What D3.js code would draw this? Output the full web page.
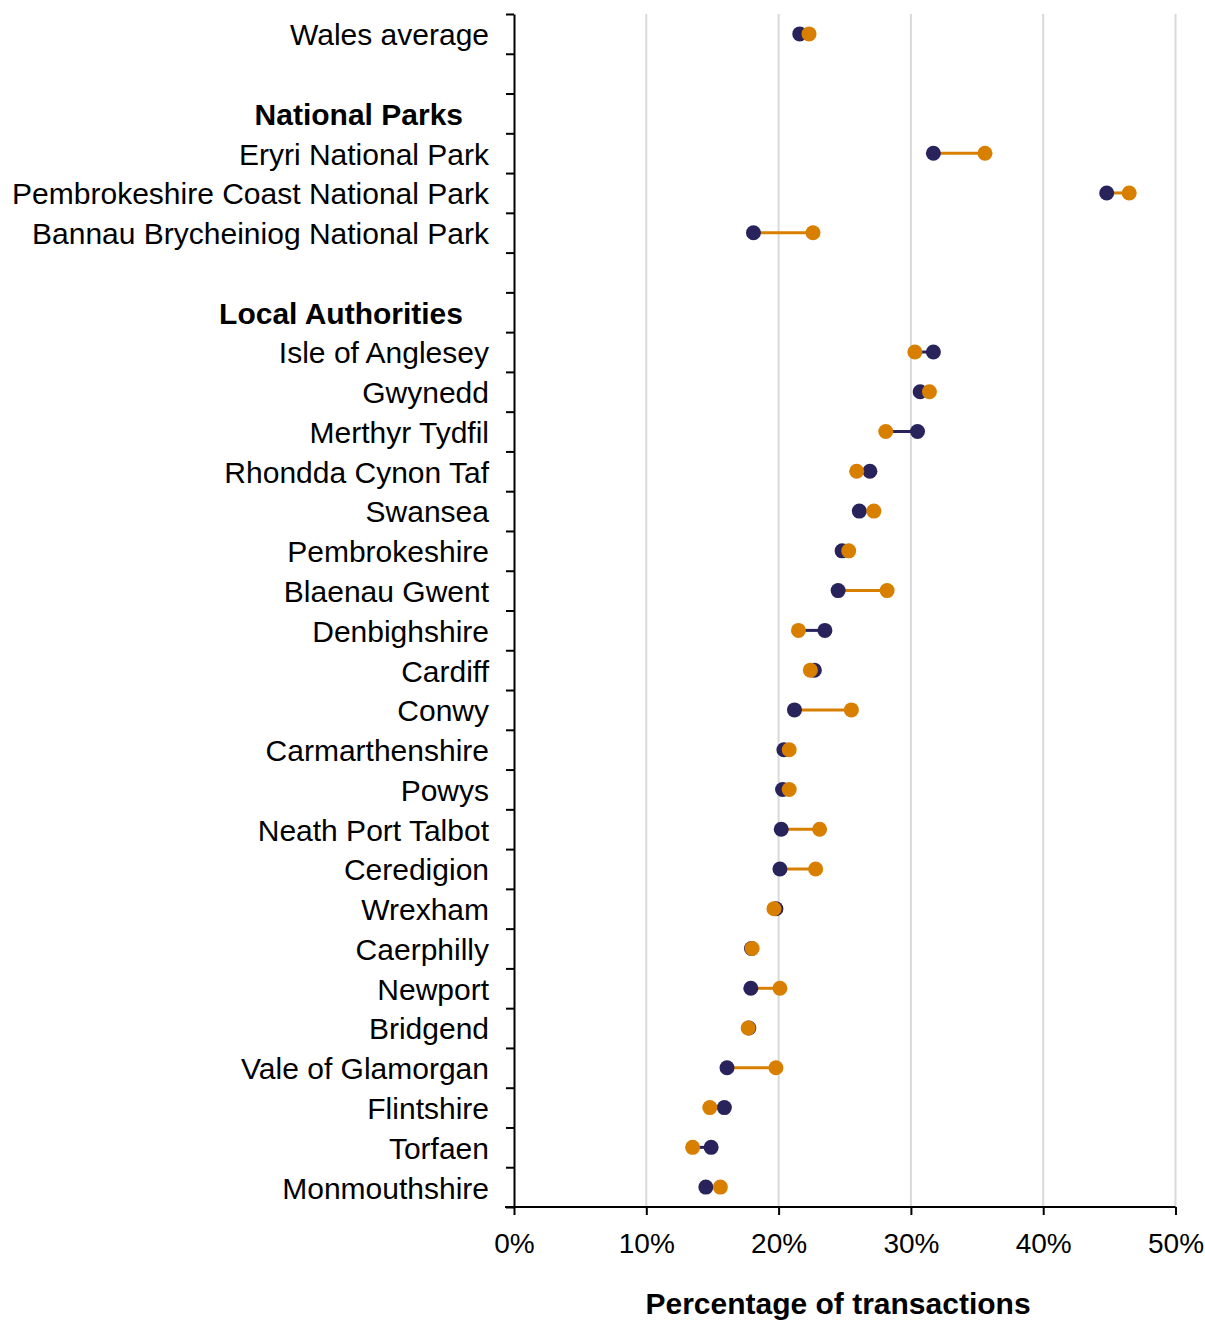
<!DOCTYPE html>
<html>
<head>
<meta charset="utf-8" />
<title>Percentage of transactions</title>
<script src="https://d3js.org/d3.v7.min.js"></script>
<style>
  body { margin: 0; background: #fff; }
  text { font-family: "Liberation Sans", Arial, sans-serif; }
</style>
</head>
<body>
<svg width="1205" height="1320"></svg>
<script>
// rows top to bottom, "" = blank spacer row
var rowLabels = ["Wales average", "", "National Parks", "Eryri National Park",
  "Pembrokeshire Coast National Park", "Bannau Brycheiniog National Park", "",
  "Local Authorities", "Isle of Anglesey", "Gwynedd", "Merthyr Tydfil",
  "Rhondda Cynon Taf", "Swansea", "Pembrokeshire", "Blaenau Gwent", "Denbighshire",
  "Cardiff", "Conwy", "Carmarthenshire", "Powys", "Neath Port Talbot", "Ceredigion",
  "Wrexham", "Caerphilly", "Newport", "Bridgend", "Vale of Glamorgan", "Flintshire",
  "Torfaen", "Monmouthshire"];
var headerRows = ["National Parks", "Local Authorities"];

// navy series (%)
var seriesA = [21.6, null, null, 31.7, 44.8, 18.1, null, null,
  31.7, 30.7, 30.5, 26.9, 26.1, 24.8, 24.5, 23.5, 22.7, 21.2,
  20.4, 20.3, 20.2, 20.1, 19.8, 17.95, 17.9, 17.75, 16.1, 15.9, 14.9, 14.5];
// orange series (%)
var seriesB = [22.3, null, null, 35.6, 46.5, 22.6, null, null,
  30.3, 31.4, 28.1, 25.9, 27.2, 25.3, 28.2, 21.5, 22.4, 25.5,
  20.8, 20.8, 23.1, 22.8, 19.65, 18.0, 20.1, 17.7, 19.8, 14.8, 13.5, 15.6];

var xTicks = [0, 10, 20, 30, 40, 50];

var navy = "#29235c", orange = "#d97f00";

var svg = d3.select("svg");
var margin = {top: 14, left: 514, right: 30, bottom: 113};
var width = +svg.attr("width"), height = +svg.attr("height");

var x = d3.scaleLinear().domain([0, 50]).range([margin.left, width - margin.right + 0.5]);
var y = d3.scaleBand().domain(d3.range(rowLabels.length)).range([margin.top, height - margin.bottom]);
var yEdge = d3.scaleLinear().domain([0, rowLabels.length]).range([margin.top, height - margin.bottom]);
var bottom = height - margin.bottom;

// gridlines
svg.append("g").selectAll("line")
  .data(xTicks.slice(1))
  .enter().append("line")
  .attr("x1", d => x(d)).attr("x2", d => x(d))
  .attr("y1", margin.top).attr("y2", bottom)
  .attr("stroke", "#d9d9d9").attr("stroke-width", 2);

// x axis
var xAxisG = svg.append("g")
  .attr("transform", "translate(0," + bottom + ")")
  .call(d3.axisBottom(x).tickValues(xTicks).tickFormat(d => d + "%").tickSize(8).tickSizeOuter(0));
xAxisG.select(".domain").attr("stroke", "#000").attr("stroke-width", 2)
  .attr("d", "M" + (margin.left - 9) + ",0H" + x(50));
xAxisG.selectAll(".tick line").attr("stroke", "#000").attr("stroke-width", 2);
xAxisG.selectAll(".tick text").attr("font-size", 28).attr("fill", "#000").attr("dy", "1.25em");

svg.append("text")
  .attr("x", 838).attr("y", 1314)
  .attr("text-anchor", "middle").attr("font-size", 30).attr("font-weight", "bold")
  .text("Percentage of transactions");

// y axis: ticks at row boundaries
var yAxisG = svg.append("g")
  .attr("transform", "translate(" + margin.left + ",0)")
  .call(d3.axisLeft(yEdge).tickValues(d3.range(rowLabels.length + 1)).tickFormat("").tickSize(8).tickSizeOuter(0));
yAxisG.select(".domain").attr("stroke", "#000").attr("stroke-width", 2);
yAxisG.selectAll(".tick line").attr("stroke", "#000").attr("stroke-width", 2);

// row labels
svg.append("g").selectAll("text")
  .data(rowLabels)
  .enter().append("text")
  .attr("x", d => headerRows.includes(d) ? 463 : 489)
  .attr("y", (d, i) => y(i) + y.bandwidth() / 2)
  .attr("dy", "0.38em")
  .attr("text-anchor", "end")
  .attr("font-size", 30)
  .attr("font-weight", d => headerRows.includes(d) ? "bold" : "normal")
  .attr("fill", "#000")
  .text(d => d);

var rows = rowLabels.map((d, i) => ({i: i, a: seriesA[i], b: seriesB[i]}))
  .filter(d => d.a != null);

// connectors, coloured by the right-hand point
svg.append("g").selectAll("line")
  .data(rows)
  .enter().append("line")
  .attr("x1", d => x(d.a)).attr("x2", d => x(d.b))
  .attr("y1", d => y(d.i) + y.bandwidth() / 2).attr("y2", d => y(d.i) + y.bandwidth() / 2)
  .attr("stroke", d => d.b >= d.a ? orange : navy)
  .attr("stroke-width", 3);

svg.append("g").selectAll("circle")
  .data(rows)
  .enter().append("circle")
  .attr("cx", d => x(d.a)).attr("cy", d => y(d.i) + y.bandwidth() / 2)
  .attr("r", 7.5).attr("fill", navy);

svg.append("g").selectAll("circle")
  .data(rows)
  .enter().append("circle")
  .attr("cx", d => x(d.b)).attr("cy", d => y(d.i) + y.bandwidth() / 2)
  .attr("r", 7.5).attr("fill", orange);
</script>
</body>
</html>
